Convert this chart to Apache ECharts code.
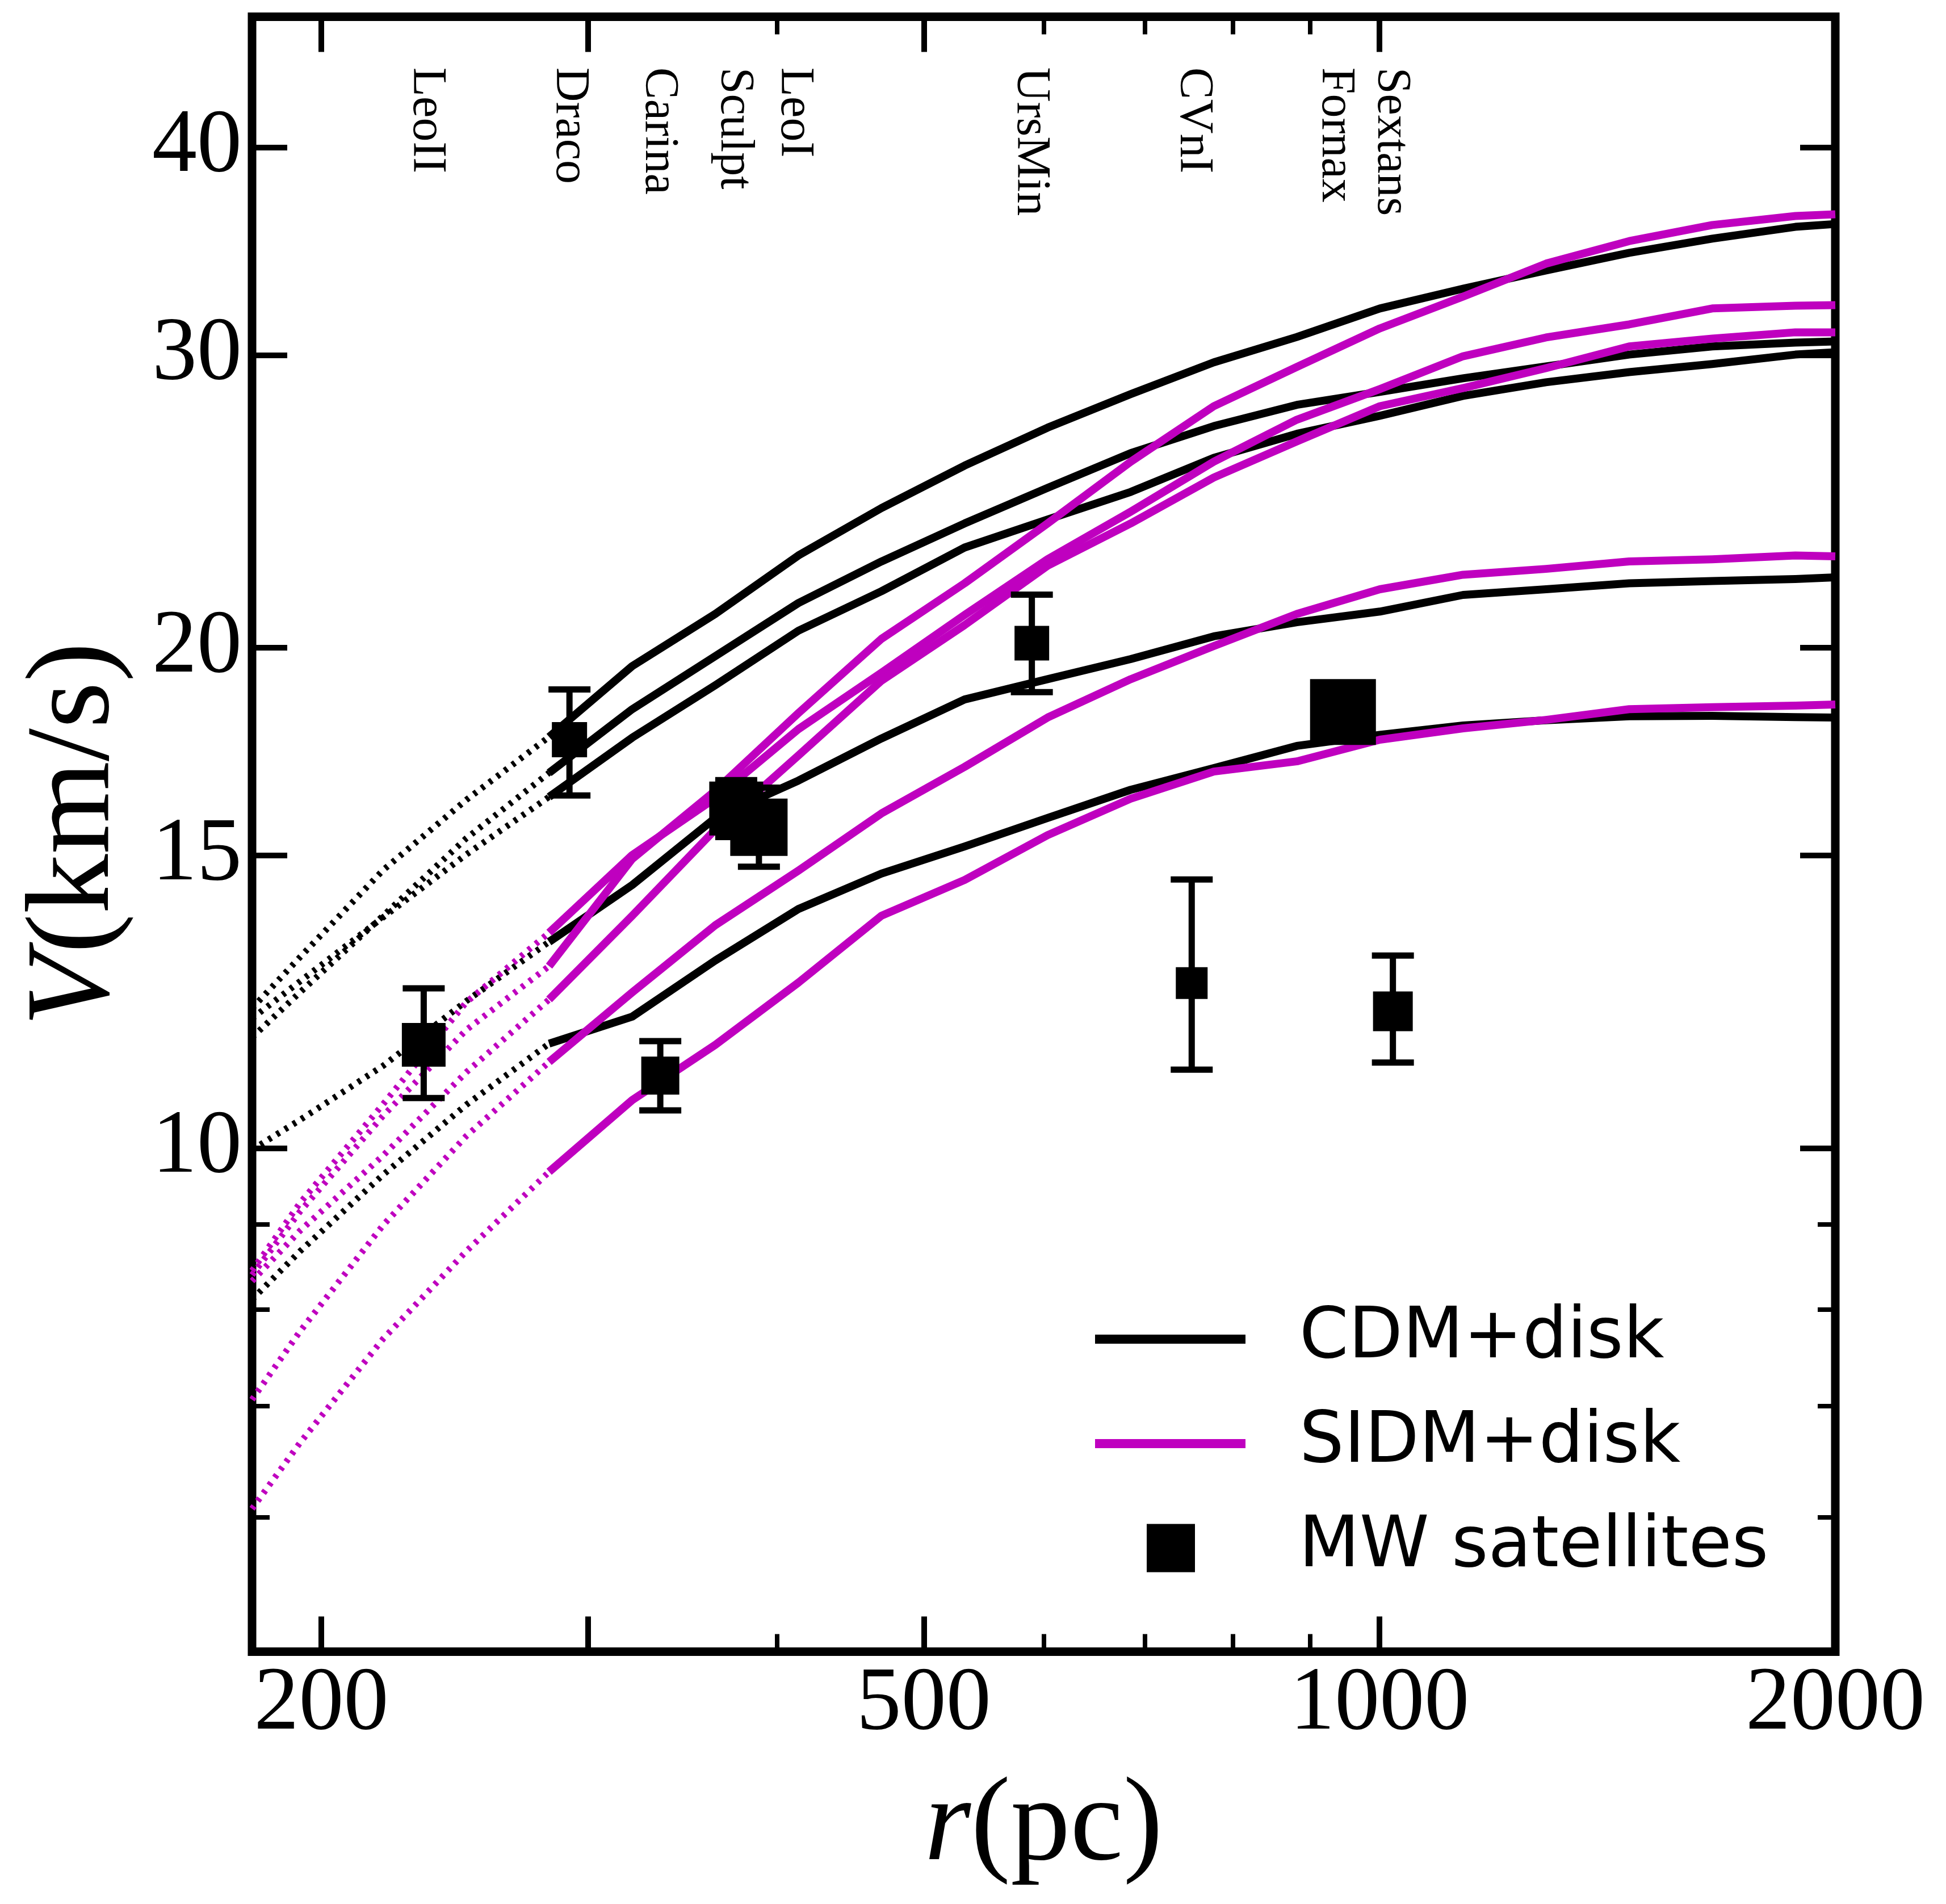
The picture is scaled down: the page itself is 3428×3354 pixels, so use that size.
<!DOCTYPE html>
<html>
<head>
<meta charset="utf-8">
<script src="https://cdn.jsdelivr.net/npm/echarts@6.0.0/dist/echarts.min.js"></script>
<style>html,body{margin:0;padding:0;background:#fff}#c{width:3428px;height:3354px}</style>
</head>
<body>
<div id="c"></div>
<script>
// ---------- data ----------
const rDot = [180, 193.6, 219.7, 249.3, 282.8];
const rSol = [282.8, 320.9, 364.1, 413.2, 468.8, 532.0, 603.6, 684.9, 777.2, 881.8, 1000.5, 1135.4, 1288.1, 1461.8, 1658.6, 1882.1, 2000];

const cdm1Dot = [12.14, 13.03, 14.70, 16.20, 17.68];
const cdm1 = [17.68, 19.50, 20.96, 22.73, 24.27, 25.74, 27.13, 28.42, 29.70, 30.76, 32.00, 32.89, 33.73, 34.56, 35.25, 35.83, 35.97];
const cdm2Dot = [11.66, 12.41, 13.80, 15.36, 16.82];
const cdm2 = [16.82, 18.37, 19.77, 21.28, 22.54, 23.76, 24.96, 26.19, 27.19, 28.00, 28.51, 29.05, 29.53, 30.02, 30.36, 30.52, 30.57];
const cdm3Dot = [11.97, 12.60, 13.77, 15.02, 16.27];
const cdm3 = [16.27, 17.66, 18.99, 20.48, 21.63, 22.98, 23.89, 24.82, 26.02, 26.90, 27.58, 28.35, 28.89, 29.30, 29.63, 30.02, 30.12];
const cdm4Dot = [9.98, 10.40, 11.21, 12.26, 13.31];
const cdm4 = [13.31, 14.40, 15.80, 16.64, 17.64, 18.62, 19.15, 19.69, 20.32, 20.72, 21.03, 21.52, 21.69, 21.87, 21.94, 22.00, 22.05];
const cdm5Dot = [8.11, 8.67, 9.64, 10.62, 11.56];
const cdm5 = [11.56, 12.00, 12.97, 13.93, 14.63, 15.19, 15.80, 16.43, 16.93, 17.46, 17.73, 17.96, 18.09, 18.19, 18.20, 18.17, 18.16];

const sidm1Dot = [8.39, 9.16, 10.46, 11.78, 12.87];
const sidm1 = [12.87, 14.93, 16.41, 18.27, 20.25, 21.87, 23.76, 25.88, 27.95, 29.51, 31.13, 32.53, 34.05, 35.13, 35.92, 36.37, 36.46];
const sidm2Dot = [8.44, 9.27, 10.63, 12.24, 13.48];
const sidm2 = [13.48, 15.01, 16.24, 17.87, 19.32, 20.93, 22.61, 24.15, 25.88, 27.43, 28.62, 29.95, 30.74, 31.30, 32.00, 32.12, 32.15];
const sidm3Dot = [8.32, 8.92, 9.90, 11.11, 12.29];
const sidm3 = [12.29, 13.80, 15.55, 17.23, 19.11, 20.64, 22.41, 23.76, 25.32, 26.62, 27.95, 28.66, 29.46, 30.36, 30.69, 30.96, 30.96];
const sidm4Dot = [7.06, 7.76, 8.99, 10.17, 11.27];
const sidm4 = [11.27, 12.41, 13.62, 14.69, 15.90, 16.96, 18.16, 19.15, 20.05, 20.96, 21.69, 22.13, 22.31, 22.54, 22.61, 22.73, 22.70];
const sidm5Dot = [6.07, 6.65, 7.68, 8.67, 9.68];
const sidm5 = [9.68, 10.69, 11.54, 12.58, 13.80, 14.50, 15.43, 16.23, 16.85, 17.09, 17.61, 17.89, 18.10, 18.37, 18.42, 18.46, 18.49];

const satNames = ['LeoII', 'Draco', 'Carina', 'Sculptor', 'LeoI', 'UrsaMinor', 'CVnI', 'Fornax', 'Sextans'];
const satR  = [233.7, 291.7, 334.9, 375.9, 389.1, 589.3, 751.5, 945.9, 1020.5];
const satV  = [11.54, 17.61, 11.06, 16.01, 15.60, 20.13, 12.57, 18.30, 12.09];
const satLo = [10.72, 16.30, 10.54, 15.39, 14.77, 18.81, 11.15, 17.73, 11.26];
const satHi = [12.48, 18.88, 11.60, 16.65, 16.48, 21.53, 14.51, 18.88, 13.06];

const galaxyLabels = ['LeoII', 'Draco', 'Carina', 'Sculpt', 'LeoI', 'UrsMin', 'CVnI', 'Fornax', 'Sextans'];
const labelR = [234.7, 291.7, 334.1, 374.6, 410.6, 587.8, 753.4, 934.5, 1017.0];
const labelTopV = 44.68;

const xMajorTicks = [200, 300, 500, 1000, 2000];
const xLabelTicks = [200, 500, 1000, 2000];
const xMinorTicks = [400, 600, 700, 800, 900];
const yMajorTicks = [10, 15, 20, 30, 40];
const yMinorTicks = [6, 7, 8, 9];
const xRange = [180, 2000];
const yRange = [4.98, 47.93];

// ---------- styles ----------
const satMarkerPx = [77, 62, 67, 95, 101, 61, 56, 116, 70];
const BLACK = '#000000', MAG = '#bf00bf';
const SERIF = 'Liberation Serif', SANS = 'DejaVu Sans';

const L = Math.log10;
const pts = (rs, vs) => rs.map((r, i) => [L(r), L(vs[i])]);

const cdmSolid = [cdm1, cdm2, cdm3, cdm4, cdm5];
const cdmDot = [cdm1Dot, cdm2Dot, cdm3Dot, cdm4Dot, cdm5Dot];
const sidmSolid = [sidm1, sidm2, sidm3, sidm4, sidm5];
const sidmDot = [sidm1Dot, sidm2Dot, sidm3Dot, sidm4Dot, sidm5Dot];

const series = [];
function addLines(list, rs, name, color, dotted, z) {
  list.forEach(arr => series.push({
    type: 'line', name: name, color: color, data: pts(rs, arr),
    symbol: 'none', showSymbol: false, silent: true, z: z,
    itemStyle: { color: color, opacity: 1 },
    lineStyle: dotted
      ? { color: color, width: 11, type: [6, 11], cap: 'butt', opacity: 1 }
      : { color: color, width: 14, cap: 'butt', join: 'round', opacity: 1 }
  }));
}
addLines(cdmDot, rDot, 'CDM+disk', BLACK, true, 2);
addLines(cdmSolid, rSol, 'CDM+disk', BLACK, false, 2);
addLines(sidmDot, rDot, 'SIDM+disk', MAG, true, 3);
addLines(sidmSolid, rSol, 'SIDM+disk', MAG, false, 3);

// error bars (drawn below the squares)
series.push({
  type: 'custom', name: 'errbars', silent: true, z: 4,
  data: satR.map((r, i) => [L(r), L(satLo[i]), L(satHi[i])]),
  encode: { x: 0, y: [1, 2] },
  renderItem: (params, api) => {
    const x = api.value(0);
    const top = api.coord([x, api.value(2)]);
    const bot = api.coord([x, api.value(1)]);
    const hw = 37, st = { stroke: BLACK, lineWidth: 11 };
    return { type: 'group', children: [
      { type: 'line', shape: { x1: top[0], y1: top[1], x2: bot[0], y2: bot[1] }, style: st },
      { type: 'line', shape: { x1: top[0] - hw, y1: top[1], x2: top[0] + hw, y2: top[1] }, style: st },
      { type: 'line', shape: { x1: bot[0] - hw, y1: bot[1], x2: bot[0] + hw, y2: bot[1] }, style: st }
    ]};
  }
});

// satellites
series.push({
  type: 'scatter', name: 'MW satellites', color: BLACK, symbol: 'rect', silent: true, z: 5,
  data: satR.map((r, i) => ({ name: satNames[i], value: [L(r), L(satV[i])] })),
  symbolSize: (val, p) => satMarkerPx[p.dataIndex],
  itemStyle: { color: BLACK, opacity: 1 }
});

// galaxy name labels
series.push({
  type: 'scatter', name: 'names', symbolSize: 0, silent: true, z: 6,
  itemStyle: { opacity: 1 },
  data: labelR.map((r, i) => ({ name: galaxyLabels[i], value: [L(r), L(labelTopV)] })),
  label: { show: true, formatter: '{b}', position: 'inside', rotate: -90, align: 'left', verticalAlign: 'middle',
           fontFamily: SERIF, fontSize: 84, color: BLACK, opacity: 1 }
});

const fmt = v => String(Math.round(Math.pow(10, v)));
function xAxis(pos, ticks, len, labels) {
  return {
    type: 'value', position: pos, min: L(xRange[0]), max: L(xRange[1]),
    axisLine: { show: false }, splitLine: { show: false },
    axisTick: { show: true, inside: true, length: len, customValues: ticks.map(L), lineStyle: { color: BLACK, width: len > 40 ? 10 : 8 } },
    axisLabel: labels ? { show: true, customValues: labels.map(L), formatter: fmt, fontFamily: SERIF, fontSize: 158, color: BLACK, margin: 15 } : { show: false }
  };
}
function yAxis(pos, ticks, len, labels) {
  return {
    type: 'value', position: pos, min: L(yRange[0]), max: L(yRange[1]),
    axisLine: { show: false }, splitLine: { show: false },
    axisTick: { show: true, inside: true, length: len, customValues: ticks.map(L), lineStyle: { color: BLACK, width: len > 40 ? 10 : 8 } },
    axisLabel: labels ? { show: true, customValues: labels.map(L), formatter: fmt, fontFamily: SERIF, fontSize: 158, color: BLACK, margin: 18 } : { show: false }
  };
}
const xa0 = xAxis('bottom', xMajorTicks, 62, xLabelTicks);
Object.assign(xa0, { name: '{it|r}(pc)', nameLocation: 'middle', nameGap: 205,
  nameTextStyle: { fontFamily: SERIF, fontSize: 210, color: BLACK, rich: { it: { fontFamily: SERIF, fontSize: 210, fontStyle: 'italic', color: BLACK } } } });
const ya0 = yAxis('left', yMajorTicks, 62, yMajorTicks);
Object.assign(ya0, { name: '{it|V}(km/s)', nameLocation: 'middle', nameGap: 204, nameRotate: 90,
  nameTextStyle: { fontFamily: SERIF, fontSize: 210, color: BLACK, rich: { it: { fontFamily: SERIF, fontSize: 210, fontStyle: 'italic', color: BLACK } } } });

const legendText = (pad) => ({ fontFamily: SANS, fontSize: 124, color: BLACK, lineHeight: 124, padding: [0, 0, 0, pad] });

const option = {
  backgroundColor: '#ffffff',
  animation: false,
  grid: { left: 444, top: 29.5, width: 2789, height: 2880, show: true, borderColor: BLACK, borderWidth: 15, backgroundColor: 'transparent' },
  xAxis: [xa0, xAxis('bottom', xMinorTicks, 31, null), xAxis('top', xMajorTicks, 62, null), xAxis('top', xMinorTicks, 31, null)],
  yAxis: [ya0, yAxis('left', yMinorTicks, 31, null), yAxis('right', yMajorTicks, 62, null), yAxis('right', yMinorTicks, 31, null)],
  legend: [
    { data: [{ name: 'CDM+disk', icon: 'rect', itemStyle: { color: BLACK, opacity: 1 } }], left: 1929, top: 2297, padding: 0, itemWidth: 265, itemHeight: 16, selectedMode: false, textStyle: legendText(90) },
    { data: [{ name: 'SIDM+disk', icon: 'rect', itemStyle: { color: MAG, opacity: 1 } }], left: 1929, top: 2481, padding: 0, itemWidth: 265, itemHeight: 16, selectedMode: false, textStyle: legendText(90) },
    { data: [{ name: 'MW satellites', icon: 'rect', itemStyle: { color: BLACK, opacity: 1 } }], left: 2020, top: 2665, padding: 0, itemWidth: 85, itemHeight: 85, selectedMode: false, textStyle: legendText(178) }
  ],
  series: series
};
const chart = echarts.init(document.getElementById('c'), null, { renderer: 'canvas', devicePixelRatio: 1 });
chart.setOption(option);
</script>
</body>
</html>
